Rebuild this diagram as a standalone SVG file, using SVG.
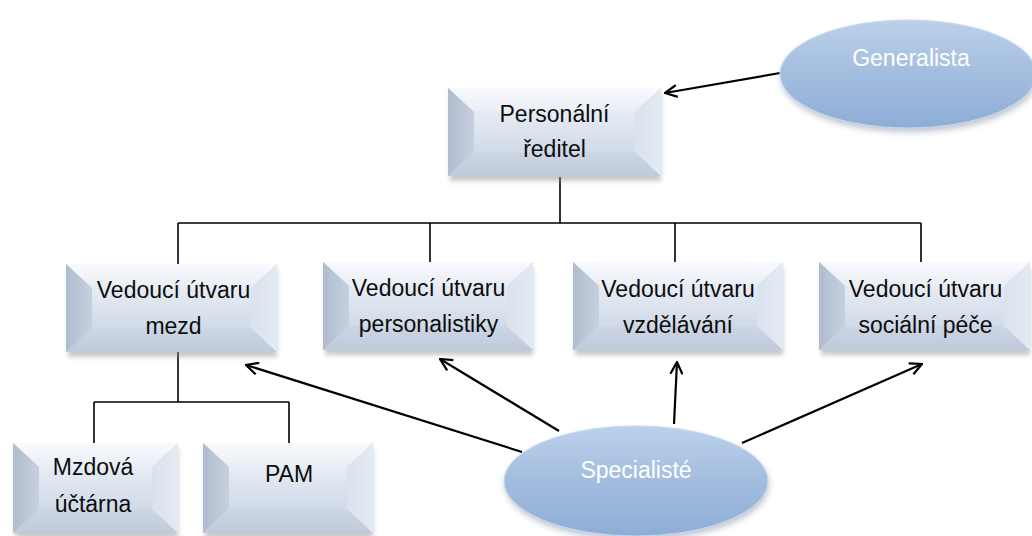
<svg xmlns="http://www.w3.org/2000/svg" width="1032" height="536" viewBox="0 0 1032 536">
  <defs>
    <style>
      .lbl { font-family: "Liberation Sans", Arial, sans-serif; font-size: 23px; fill: #0d0d0d; text-anchor: middle; }
      .elbl { font-family: "Liberation Sans", Arial, sans-serif; font-size: 23px; fill: #ffffff; text-anchor: middle; }
      .conn { stroke: #000; stroke-width: 1.6; fill: none; }
      .arrow { stroke: #000; stroke-width: 2.2; fill: none; marker-end: url(#open); }
      .shadow { fill: #8a8f96; opacity: 0.5; filter: url(#blur); }
      .b-out { fill: #d3dceb; }
      .b-left { fill: url(#gLeft); }
      .b-right { fill: url(#gRight); }
      .b-top { fill: url(#gTop); }
      .b-bot { fill: url(#gBot); }
      .b-face { fill: url(#gFace); }
      .ell { fill: url(#gEll); stroke: #c9dbf0; stroke-width: 1; }
      .eshadow { fill: #6f7f94; opacity: 0.45; filter: url(#blur2); }
    </style>
    <filter id="blur" x="-10%" y="-20%" width="120%" height="140%">
      <feGaussianBlur stdDeviation="2.5"/>
    </filter>
    <filter id="blur2" x="-10%" y="-20%" width="120%" height="140%">
      <feGaussianBlur stdDeviation="3"/>
    </filter>
    <linearGradient id="gFace" x1="0" y1="0" x2="0" y2="1">
      <stop offset="0" stop-color="#e6ecf5"/>
      <stop offset="1" stop-color="#d0dae8"/>
    </linearGradient>
    <linearGradient id="gLeft" x1="0" y1="0" x2="1" y2="0">
      <stop offset="0" stop-color="#b0bccd"/>
      <stop offset="1" stop-color="#c6d0df"/>
    </linearGradient>
    <linearGradient id="gRight" x1="0" y1="0" x2="1" y2="0">
      <stop offset="0" stop-color="#dae2ee"/>
      <stop offset="1" stop-color="#e4eaf3"/>
    </linearGradient>
    <linearGradient id="gTop" x1="0" y1="0" x2="0" y2="1">
      <stop offset="0" stop-color="#f8fafd"/>
      <stop offset="1" stop-color="#e9eef5"/>
    </linearGradient>
    <linearGradient id="gBot" x1="0" y1="0" x2="0" y2="1">
      <stop offset="0" stop-color="#ccd6e4"/>
      <stop offset="1" stop-color="#bfcadb"/>
    </linearGradient>
    <linearGradient id="gEll" x1="0" y1="0" x2="0" y2="1">
      <stop offset="0" stop-color="#bcd1ea"/>
      <stop offset="0.5" stop-color="#a3bddf"/>
      <stop offset="1" stop-color="#8eadd6"/>
    </linearGradient>
    <marker id="open" viewBox="0 0 14 14" refX="13" refY="7" markerWidth="14" markerHeight="14" markerUnits="userSpaceOnUse" orient="auto">
      <path d="M1,1 L13,7 L1,13" fill="none" stroke="#000" stroke-width="2.2"/>
    </marker>
  </defs>

  <!-- org-chart connectors and arrows -->
  <g id="connectors">
    <path class="conn" d="M560,177 V223 M178,223 H921 M178,223 V264 M430,223 V262 M675,223 V262 M921,223 V262"/>
    <path class="conn" d="M178,352 V402 M94,402 H289 M94,402 V443 M289,402 V443"/>
    <line class="arrow" x1="780" y1="73" x2="665" y2="93"/>
    <line class="arrow" x1="522" y1="452" x2="246" y2="365"/>
    <line class="arrow" x1="559" y1="431" x2="440" y2="359"/>
    <line class="arrow" x1="674" y1="424" x2="677" y2="362"/>
    <line class="arrow" x1="742" y1="443" x2="922" y2="364"/>
  </g>

  <!-- bevelled boxes: shadow, outer frame, four bevels, face -->
  <g id="personalni-reditel">
    <rect class="shadow" x="450" y="93" width="211" height="88"/>
    <rect class="b-out" x="448" y="88" width="213" height="88"/>
    <polygon class="b-top" points="448,88 661,88 635,112 474,112"/>
    <polygon class="b-bot" points="448,176 661,176 635,152 474,152"/>
    <polygon class="b-left" points="448,88 474,112 474,152 448,176"/>
    <polygon class="b-right" points="661,88 635,112 635,152 661,176"/>
    <rect class="b-face" x="474" y="112" width="161" height="40"/>
    <text class="lbl" x="554.5" y="122">Personální</text>
    <text class="lbl" x="554.5" y="157">ředitel</text>
  </g>

  <g id="vedouci-mezd">
    <rect class="shadow" x="68" y="269" width="209" height="88"/>
    <rect class="b-out" x="66" y="264" width="211" height="88"/>
    <polygon class="b-top" points="66,264 277,264 251,288 92,288"/>
    <polygon class="b-bot" points="66,352 277,352 251,328 92,328"/>
    <polygon class="b-left" points="66,264 92,288 92,328 66,352"/>
    <polygon class="b-right" points="277,264 251,288 251,328 277,352"/>
    <rect class="b-face" x="92" y="288" width="159" height="40"/>
    <text class="lbl" x="173.5" y="298">Vedoucí útvaru</text>
    <text class="lbl" x="173.5" y="334">mezd</text>
  </g>

  <g id="vedouci-personalistiky">
    <rect class="shadow" x="325" y="267" width="208" height="88"/>
    <rect class="b-out" x="323" y="262" width="210" height="88"/>
    <polygon class="b-top" points="323,262 533,262 507,286 349,286"/>
    <polygon class="b-bot" points="323,350 533,350 507,326 349,326"/>
    <polygon class="b-left" points="323,262 349,286 349,326 323,350"/>
    <polygon class="b-right" points="533,262 507,286 507,326 533,350"/>
    <rect class="b-face" x="349" y="286" width="158" height="40"/>
    <text class="lbl" x="428.5" y="296">Vedoucí útvaru</text>
    <text class="lbl" x="428.5" y="332">personalistiky</text>
  </g>

  <g id="vedouci-vzdelavani">
    <rect class="shadow" x="575" y="267" width="208" height="88"/>
    <rect class="b-out" x="573" y="262" width="210" height="88"/>
    <polygon class="b-top" points="573,262 783,262 757,286 599,286"/>
    <polygon class="b-bot" points="573,350 783,350 757,326 599,326"/>
    <polygon class="b-left" points="573,262 599,286 599,326 573,350"/>
    <polygon class="b-right" points="783,262 757,286 757,326 783,350"/>
    <rect class="b-face" x="599" y="286" width="158" height="40"/>
    <text class="lbl" x="678" y="297">Vedoucí útvaru</text>
    <text class="lbl" x="678" y="333">vzdělávání</text>
  </g>

  <g id="vedouci-socialni-pece">
    <rect class="shadow" x="821" y="267" width="209" height="88"/>
    <rect class="b-out" x="819" y="262" width="211" height="88"/>
    <polygon class="b-top" points="819,262 1030,262 1004,286 845,286"/>
    <polygon class="b-bot" points="819,350 1030,350 1004,326 845,326"/>
    <polygon class="b-left" points="819,262 845,286 845,326 819,350"/>
    <polygon class="b-right" points="1030,262 1004,286 1004,326 1030,350"/>
    <rect class="b-face" x="845" y="286" width="159" height="40"/>
    <text class="lbl" x="925.5" y="297">Vedoucí útvaru</text>
    <text class="lbl" x="925.5" y="333">sociální péče</text>
  </g>

  <g id="mzdova-uctarna">
    <rect class="shadow" x="15" y="448" width="163" height="90"/>
    <rect class="b-out" x="13" y="443" width="165" height="90"/>
    <polygon class="b-top" points="13,443 178,443 152,467 39,467"/>
    <polygon class="b-bot" points="13,533 178,533 152,509 39,509"/>
    <polygon class="b-left" points="13,443 39,467 39,509 13,533"/>
    <polygon class="b-right" points="178,443 152,467 152,509 178,533"/>
    <rect class="b-face" x="39" y="467" width="113" height="42"/>
    <text class="lbl" x="93" y="475">Mzdová</text>
    <text class="lbl" x="93" y="512">účtárna</text>
  </g>

  <g id="pam">
    <rect class="shadow" x="205" y="448" width="168" height="90"/>
    <rect class="b-out" x="203" y="443" width="170" height="90"/>
    <polygon class="b-top" points="203,443 373,443 347,467 229,467"/>
    <polygon class="b-bot" points="203,533 373,533 347,509 229,509"/>
    <polygon class="b-left" points="203,443 229,467 229,509 203,533"/>
    <polygon class="b-right" points="373,443 347,467 347,509 373,533"/>
    <rect class="b-face" x="229" y="467" width="118" height="42"/>
    <text class="lbl" x="289" y="482">PAM</text>
  </g>

  <!-- role ellipses -->
  <g id="generalista">
    <ellipse class="eshadow" cx="909" cy="78" rx="128" ry="54"/>
    <ellipse class="ell" cx="908" cy="74" rx="128" ry="54"/>
    <text class="elbl" x="911" y="66">Generalista</text>
  </g>

  <g id="specialiste">
    <ellipse class="eshadow" cx="637" cy="485" rx="132" ry="55"/>
    <ellipse class="ell" cx="636" cy="481" rx="132" ry="55"/>
    <text class="elbl" x="636" y="478">Specialisté</text>
  </g>
</svg>
